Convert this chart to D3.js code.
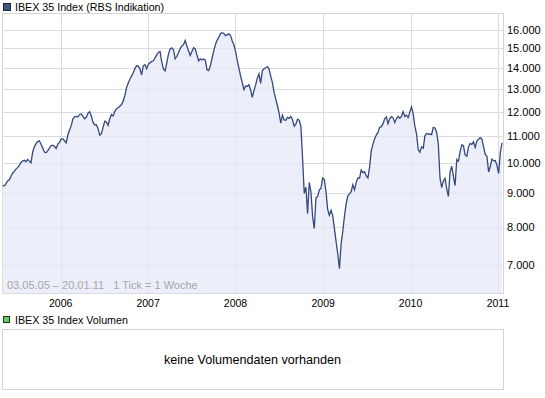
<!DOCTYPE html>
<html>
  <head>
    <meta charset="utf-8"/>
    <title>IBEX 35 Index</title>
    <script src="https://cdnjs.cloudflare.com/ajax/libs/d3/7.8.5/d3.min.js"></script>
    <style>
      body { margin: 0; background: #fff; }
      text { font-family: "Liberation Sans", Arial, sans-serif; }
    </style>
  </head>
  <body>
    <script>

      var outerWidth = 545;
      var outerHeight = 398;

      // weekly closes, 1 tick = 1 week, starting 03.05.05
      var startDate = "2005-05-03";
      var endDate = "2011-01-20";
      var values = [
        9250, 9240, 9300, 9400, 9430, 9550, 9660, 9720, 9800, 9850,
        9930, 10030, 10080, 10110, 10060, 10140, 10080, 10020, 10400, 10600,
        10720, 10800, 10830, 10700, 10560, 10410, 10380, 10460, 10550, 10650,
        10660, 10610, 10540, 10700, 10770, 10900, 10900, 10830, 10750, 11050,
        11250, 11420, 11700, 11780, 11800, 11780, 11880, 11900, 11800, 11700,
        11760, 11930, 12000, 11820, 11550, 11450, 11460, 11300, 11050, 11100,
        11350, 11600, 11570, 11430, 11700, 11880, 11820, 12000, 12120, 12160,
        12230, 12300, 12450, 12700, 13050, 13270, 13450, 13600, 13760, 13960,
        14100, 14080, 13950, 13650, 14100, 14150, 13950, 14170, 14250, 14320,
        14350, 14500, 14650, 14780, 14830, 14300, 13950, 13850, 14250, 14690,
        14960, 15020, 14920, 14450, 14580, 14760, 14980, 15120, 15190, 15420,
        15120, 14850, 14620, 14830, 15020, 14960, 14640, 14350, 14450, 14390,
        14440, 14380, 13900, 13860, 14100, 14480, 14850, 15190, 15420, 15580,
        15780, 15840, 15800, 15680, 15720, 15780, 15700, 15400, 15180, 14850,
        14400, 14000, 13620, 13300, 12970, 13120, 13120, 13190, 12950, 12620,
        12920, 13170, 13500, 13700, 13250, 13850, 13950, 14000, 14060, 13950,
        13600, 13300, 12850, 12550, 12250, 11950, 11520, 11850, 11650, 11640,
        11760, 11720, 11800, 11660, 11400, 11480, 11680, 11640, 11400, 10200,
        9000, 9200, 8380, 9350, 9050, 8300, 7950, 8850, 8900, 9100,
        9160, 9500, 9450, 9050, 8500, 8330, 8480, 8330, 7950, 7600,
        7280, 6900, 7530, 7880, 8300, 8670, 8920, 8980, 9050, 9280,
        9110, 9350, 9500, 9490, 9770, 9680, 9710, 9570, 9500, 9880,
        10450, 10700, 10900, 11050, 11150, 11350, 11380, 11500, 11700, 11780,
        11500, 11700, 11790, 11740, 11550, 11700, 11800, 11720, 11800, 12000,
        11800, 11850, 11750, 11980, 12200, 11900, 11400, 11100, 10500, 10400,
        10600, 10550, 11020, 11110, 11090, 11080, 11070, 11350, 11330, 11150,
        10700, 9500, 9180, 9400, 9490, 9150, 8900, 9700, 9900, 9560,
        9250, 10140, 10080, 10420, 10680, 10640, 10300, 10250, 10600, 10730,
        10690, 10790, 10580, 10820, 10890, 10950, 10890, 10600, 10320, 10250,
        9700, 9900, 10150, 10090, 10100, 9930, 9650, 10400, 10750
      ];
      var yTicks = [7000, 8000, 9000, 10000, 11000, 12000, 13000, 14000, 15000, 16000];
      var xTicks = ["2006-01-01", "2007-01-01", "2008-01-01", "2009-01-01", "2010-01-01", "2011-01-01"];

      var plot = { left: 2.5, right: 502.5, top: 13.5, bottom: 293.5 };

      var parse = d3.timeParse("%Y-%m-%d");
      var start = parse(startDate);
      var data = values.map(function (v, i){
        return { date: d3.timeDay.offset(start, i * 7), value: v };
      });

      var svg = d3.select("body").append("svg")
        .attr("width", outerWidth)
        .attr("height", outerHeight);

      var xScale = d3.scaleTime()
        .domain([start, parse(endDate)])
        .range([plot.left, plot.right]);
      var yScale = d3.scaleLog()
        .domain([6325, 16950])
        .range([plot.bottom, plot.top]);

      function px(v){ return Math.round(v) + 0.5; }

      // legend top
      svg.append("rect").attr("x", 3.5).attr("y", 3.5).attr("width", 7).attr("height", 7)
        .attr("fill", "#45557f").attr("stroke", "#1b2440");
      svg.append("text").attr("x", 15).attr("y", 11)
        .attr("font-size", "10.7px").attr("fill", "#000")
        .text("IBEX 35 Index (RBS Indikation)");

      // frame + grid
      svg.append("rect")
        .attr("x", plot.left).attr("y", plot.top)
        .attr("width", plot.right - plot.left + 1).attr("height", plot.bottom - plot.top)
        .attr("fill", "#fff").attr("stroke", "#d4d4d4");

      svg.selectAll(".hgrid").data(yTicks).enter().append("line")
        .attr("class", "hgrid")
        .attr("x1", plot.left).attr("x2", plot.right + 1)
        .attr("y1", function (d){ return px(yScale(d)); })
        .attr("y2", function (d){ return px(yScale(d)); })
        .attr("stroke", "#dcdcdc");

      svg.selectAll(".vgrid").data(xTicks).enter().append("line")
        .attr("class", "vgrid")
        .attr("y1", plot.top).attr("y2", plot.bottom)
        .attr("x1", function (d){ return px(xScale(parse(d))); })
        .attr("x2", function (d){ return px(xScale(parse(d))); })
        .attr("stroke", "#dcdcdc");

      // area + line
      var area = d3.area()
        .x(function (d){ return xScale(d.date); })
        .y0(plot.bottom)
        .y1(function (d){ return yScale(d.value); });
      var line = d3.line()
        .x(function (d){ return xScale(d.date); })
        .y(function (d){ return yScale(d.value); });

      svg.append("path").datum(data).attr("d", area)
        .attr("fill", "#e6eaf7").attr("fill-opacity", 0.75);
      svg.append("path").datum(data).attr("d", line)
        .attr("fill", "none").attr("stroke", "#34487c").attr("stroke-width", 1.3);

      // axes labels
      svg.selectAll(".ylab").data(yTicks).enter().append("text")
        .attr("class", "ylab")
        .attr("x", 507).attr("y", function (d){ return yScale(d); })
        .attr("dy", "0.36em")
        .attr("font-size", "11px")
        .text(function (d){ return d3.format(",")(d).replace(",", "."); });

      svg.selectAll(".xlab").data(xTicks).enter().append("text")
        .attr("class", "xlab")
        .attr("x", function (d){ return xScale(parse(d)); })
        .attr("y", 307)
        .attr("text-anchor", "middle")
        .attr("font-size", "10.5px")
        .text(function (d){ return d.slice(0, 4); });

      svg.append("text").attr("x", 7).attr("y", 289)
        .attr("font-size", "11px").attr("fill", "#a6a6a6")
        .attr("xml:space", "preserve")
        .text("03.05.05 \u2013 20.01.11   1 Tick = 1 Woche");

      // volume panel
      svg.append("rect").attr("x", 3.5).attr("y", 316.5).attr("width", 6).attr("height", 6)
        .attr("fill", "#66cc66").attr("stroke", "#1e3a1e");
      svg.append("text").attr("x", 15).attr("y", 324)
        .attr("font-size", "10.7px")
        .text("IBEX 35 Index Volumen");

      svg.append("rect")
        .attr("x", plot.left).attr("y", 329.5)
        .attr("width", plot.right - plot.left + 1).attr("height", 60)
        .attr("fill", "#fff").attr("stroke", "#d4d4d4");
      svg.append("text")
        .attr("x", (plot.left + plot.right) / 2).attr("y", 364)
        .attr("text-anchor", "middle")
        .attr("font-size", "12.6px")
        .text("keine Volumendaten vorhanden");

    </script>
  </body>
</html>
